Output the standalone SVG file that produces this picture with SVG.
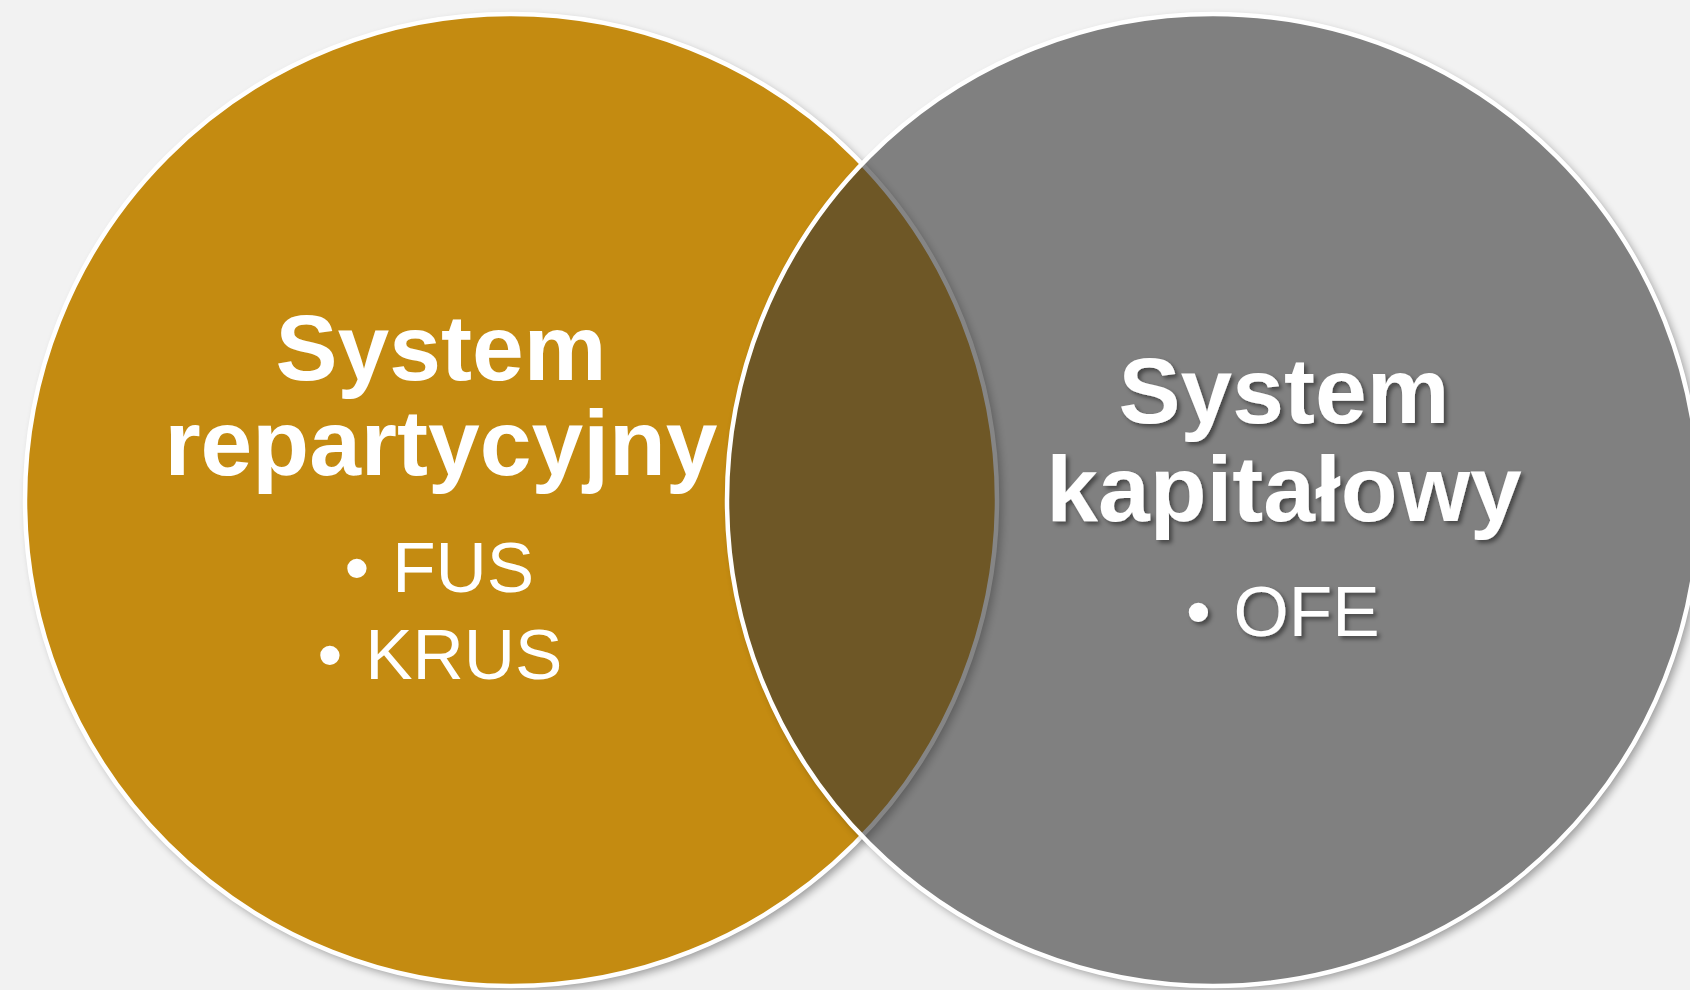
<svg xmlns="http://www.w3.org/2000/svg" width="1690" height="990" viewBox="0 0 1690 990">
  <style>
    .title { font-family: "Liberation Sans", Arial, sans-serif; font-weight: bold; font-size: 93px; fill: #FFFFFF; text-anchor: middle; }
    .item { font-family: "Liberation Sans", Arial, sans-serif; font-size: 71px; fill: #FFFFFF; }
  </style>
  <defs>
    <filter id="blur" x="-10%" y="-10%" width="120%" height="120%">
      <feGaussianBlur stdDeviation="4"/>
    </filter>
    <filter id="tshadow" x="-10%" y="-20%" width="120%" height="140%">
      <feDropShadow dx="3" dy="3" stdDeviation="2" flood-color="#000" flood-opacity="0.45"/>
    </filter>
    <mask id="outsideRight" maskUnits="userSpaceOnUse" x="0" y="0" width="1690" height="990">
      <rect x="0" y="0" width="1690" height="990" fill="#fff"/>
      <circle cx="1213" cy="500" r="486" fill="#000"/>
    </mask>
  </defs>

  <rect x="0" y="0" width="1690" height="990" fill="#F2F2F2"/>

  <g id="node-repartycyjny">
    <circle cx="515" cy="504" r="487" fill="#000" opacity="0.35" filter="url(#blur)"/>
    <circle cx="511" cy="500" r="486" fill="#C48B11" stroke="#FFFFFF" stroke-width="4.5"/>
  </g>

  <g id="node-kapitalowy">
    <g mask="url(#outsideRight)">
      <circle cx="1217" cy="504" r="487" fill="#000" opacity="0.35" filter="url(#blur)"/>
    </g>
    <circle cx="1213" cy="500" r="486" fill="#353535" fill-opacity="0.603" stroke="#FFFFFF" stroke-width="4.5"/>
  </g>

  <g id="labels-repartycyjny">
    <text class="title" x="441" y="379.5">System</text>
    <text class="title" x="441" y="474.5">repartycyjny</text>
    <text class="item" x="344.6" y="592">•<tspan dx="3"> FUS</tspan></text>
    <text class="item" x="317.6" y="679">•<tspan dx="3"> KRUS</tspan></text>
  </g>

  <g id="labels-kapitalowy" filter="url(#tshadow)">
    <text class="title" x="1284" y="422.5">System</text>
    <text class="title" x="1284" y="520.5">kapitałowy</text>
    <text class="item" x="1186" y="636">•<tspan dx="3"> OFE</tspan></text>
  </g>

  <g id="connectors"></g>
</svg>
